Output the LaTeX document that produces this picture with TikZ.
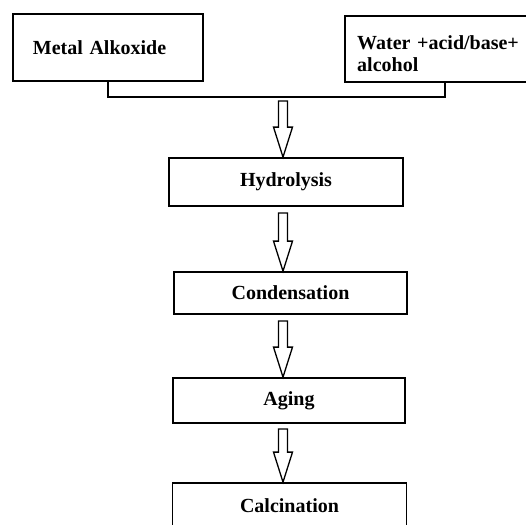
\documentclass[tikz,border=0pt]{standalone}
\usepackage{fontspec}
\setmainfont{Liberation Serif}
\usetikzlibrary{calc}
\tikzset{
  stage/.style  = {rectangle, draw, line width=1.8pt, inner sep=0pt,
                   minimum width=234pt, minimum height=46pt,
                   font=\fontsize{20}{22}\selectfont\bfseries},
  source/.style = {rectangle, draw, line width=1.8pt, inner xsep=20pt, inner ysep=0pt,
                   align=left, font=\fontsize{20}{22}\selectfont\bfseries},
  link/.style   = {line width=1.8pt},
  hollow/.style = {draw, line width=1.3pt, line join=miter, to path={
      let \p1=(\tikztostart), \p2=(\tikztotarget) in
      (\x1-4.5pt,\y1) -- (\x1+4.5pt,\y1) -- (\x1+4.5pt,\y2+30pt)
      -- (\x1+9.5pt,\y2+30pt) -- (\x1,\y2) -- (\x1-9.5pt,\y2+30pt)
      -- (\x1-4.5pt,\y2+30pt) -- cycle}},
}

\begin{document}
\begin{tikzpicture}[x=1pt, y=-1pt]

    \useasboundingbox (0,0) rectangle (526,524);

    %% ===================== INPUTS =====================
    \node[source, text width=150pt, minimum height=67pt]
         (metal) at (107.9, 47.5) {Metal Alkoxide};
    \node[source, text width=176pt, inner xsep=12pt, minimum height=66pt,
          text height=24pt, anchor=west]
         (water) at (344.3, 49) {Water +acid/base+\\alcohol};

    \draw[link] (metal.south) -- ++(0,15) -| (water.south);
    \coordinate (join) at (283, 97);

    %% ===================== STAGES =====================
    \node[stage, minimum height=48pt]             (hyd)   at (286,   182)   {Hydrolysis};
    \node[stage, minimum width=233pt, minimum height=42pt] (cond) at (290.5, 293) {Condensation};
    \node[stage, minimum width=232pt, minimum height=45pt] (aging) at (289, 400.5) {Aging};
    \node[stage, minimum height=45pt]             (calc)  at (289.5, 505.5) {Calcination};

    %% hollow arrows between stages
    \draw[hollow] ($(join)+(0,4)$)                to (join |- hyd.north);
    \draw[hollow] ($(join |- hyd.south)+(0,6)$)   to (join |- cond.north);
    \draw[hollow] ($(join |- cond.south)+(0,6)$)  to (join |- aging.north);
    \draw[hollow] ($(join |- aging.south)+(0,5)$) to (join |- calc.north);

\end{tikzpicture}
\end{document}
